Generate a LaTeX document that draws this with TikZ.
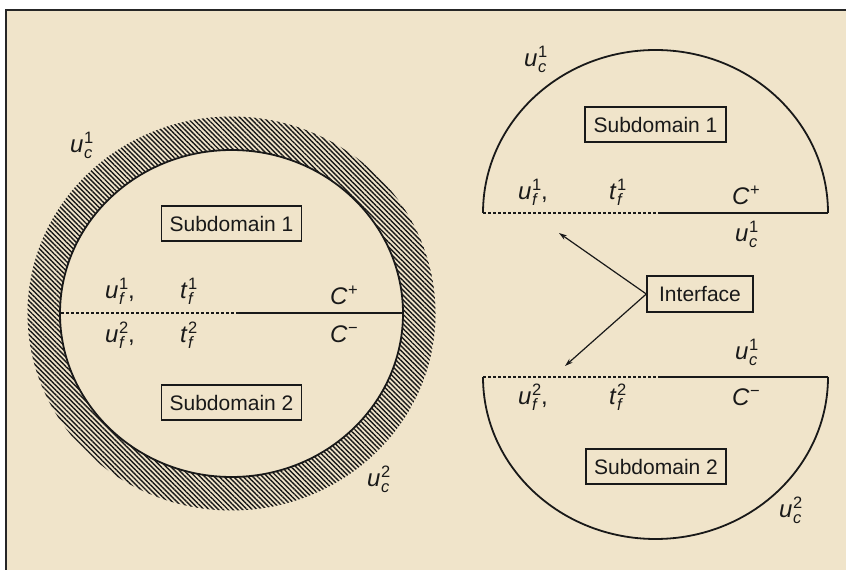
\documentclass[tikz,border=0pt]{standalone}
\usepackage{fontspec}
\setmainfont{Liberation Sans}
\usetikzlibrary{patterns.meta,arrows.meta}
\definecolor{bg}{RGB}{240,228,202}
\definecolor{ink}{RGB}{25,25,25}
\newcommand{\scr}[1]{{\fontsize{16.5}{16.5}\selectfont #1}}
\newcommand{\uvar}[3]{\textit{#1}\kern0.5pt\rlap{\raisebox{-5.5pt}{\scr{\textit{#2}}}}\raisebox{9pt}{\scr{#3}}}
\newcommand{\Cvar}[1]{\textit{C}\kern0.5pt\raisebox{9pt}{\scr{#1}}}
\begin{document}
\begin{tikzpicture}[x=1pt,y=1pt,
  lab/.style={inner sep=0pt, anchor=base west, font=\fontsize{24}{26}\selectfont, text=ink},
  boxnode/.style={draw=ink, line width=1.4pt, minimum width=140pt, minimum height=35pt, inner sep=0pt, font=\fontsize{21}{24}\selectfont, text=ink},
  bound/.style={draw=ink, line width=1.8pt},
  dashedline/.style={draw=ink, line width=1.5pt, dash pattern=on 3pt off 2pt},
  solidline/.style={draw=ink, line width=1.6pt},
  arr/.style={draw=ink, line width=1.2pt, -{Stealth[length=8pt,width=5pt]}}]
\useasboundingbox (0,0) rectangle (846,570);
\fill[white] (0,0) rectangle (846,570);
\fill[bg] (6,0) rectangle (846,560);
\draw[line width=1.6pt, color=black!85] (6,0) -- (6,560) -- (846,560);

% left ring
\coordinate (LC) at (231.5,256.5);
\fill[pattern={Lines[angle=-45,distance=3.4pt,line width=1.4pt]}, pattern color=ink, even odd rule]
  (LC) ellipse[x radius=204, y radius=197] (LC) ellipse[x radius=171.5, y radius=163.5];
\draw[bound] (LC) ellipse[x radius=171.5, y radius=163.5];
\coordinate (LA) at (61,257);
\coordinate (LM) at (237,257);
\coordinate (LB) at (403,257);
\draw[dashedline] (LA) -- (LM);
\draw[solidline] (LM) -- (LB);
\node[boxnode] (ls1) at (231.5,346.5) {Subdomain 1};
\node[boxnode] (ls2) at (231.5,167.5) {Subdomain 2};
\node[lab] (luc1) at (70,417) {\uvar{u}{c}{1}};
\node[lab] (luc2) at (367,83) {\uvar{u}{c}{2}};
\node[lab] (luf1) at (105,271) {\uvar{u}{f}{1},};
\node[lab] (ltf1) at (180,271) {\uvar{t}{f}{1}};
\node[lab] (lcp) at (330,265) {\Cvar{+}};
\node[lab] (luf2) at (105,227) {\uvar{u}{f}{2},};
\node[lab] (ltf2) at (180,227) {\uvar{t}{f}{2}};
\node[lab] (lcm) at (330,227) {\Cvar{−}};

% right top half
\coordinate (RT0) at (483,357);
\coordinate (RTm) at (658,357);
\coordinate (RT1) at (828,357);
\draw[bound] (RT0) arc[start angle=180,end angle=0,x radius=172.5,y radius=163];
\draw[dashedline] (RT0) -- (RTm);
\draw[solidline] (RTm) -- (RT1);
\node[boxnode, minimum width=141pt] (rs1) at (655.5,445.5) {Subdomain 1};
\node[lab] (ruc1) at (524,503) {\uvar{u}{c}{1}};
\node[lab] (ruf1) at (518,370) {\uvar{u}{f}{1},};
\node[lab] (rtf1) at (609,370) {\uvar{t}{f}{1}};
\node[lab] (rcp) at (732,365) {\Cvar{+}};
\node[lab] (ruc1b) at (735,328) {\uvar{u}{c}{1}};

% interface
\node[boxnode, minimum width=106pt, minimum height=36pt] (iface) at (700,276) {Interface};
\coordinate (tip1) at (559,337);
\coordinate (tip2) at (565,204);
\draw[arr] (iface.west) -- (tip1);
\draw[arr] (iface.west) -- (tip2);

% right bottom half
\coordinate (RB0) at (483,193);
\coordinate (RBm) at (660,193);
\coordinate (RB1) at (828,193);
\draw[bound] (RB0) arc[start angle=180,end angle=360,x radius=172.5,y radius=162];
\draw[dashedline] (RB0) -- (RBm);
\draw[solidline] (RBm) -- (RB1);
\node[boxnode] (rs2) at (656,103.5) {Subdomain 2};
\node[lab] (ruc1c) at (735,210) {\uvar{u}{c}{1}};
\node[lab] (ruf2) at (518,165) {\uvar{u}{f}{2},};
\node[lab] (rtf2) at (609,165) {\uvar{t}{f}{2}};
\node[lab] (rcm) at (732,164) {\Cvar{−}};
\node[lab] (ruc2) at (779,52) {\uvar{u}{c}{2}};
\end{tikzpicture}
\end{document}
